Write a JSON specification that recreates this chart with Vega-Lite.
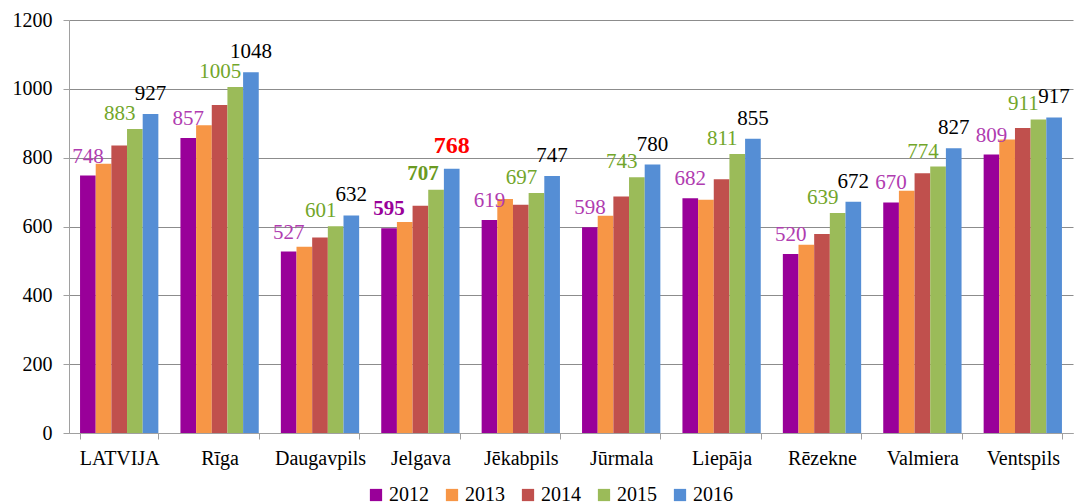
{
  "$schema": "https://vega.github.io/schema/vega-lite/v6.json",
  "autosize": {"type": "none"},
  "width": 1004,
  "height": 413,
  "padding": {"left": 69, "top": 20, "right": 4, "bottom": 71},
  "background": "white",
  "config": {
    "font": "Liberation Serif",
    "view": {"stroke": null},
    "axis": {"labelFont": "Liberation Serif", "labelColor": "black", "labelFontSize": 20, "domainColor": "#a0a0a0", "tickColor": "#a0a0a0", "gridColor": "#8c8c8c", "title": null}
  },
  "data": {
    "values": [
      {"city": "LATVIJA", "year": "2012", "value": 748},
      {"city": "LATVIJA", "year": "2013", "value": 782},
      {"city": "LATVIJA", "year": "2014", "value": 835},
      {"city": "LATVIJA", "year": "2015", "value": 883},
      {"city": "LATVIJA", "year": "2016", "value": 927},
      {"city": "Rīga", "year": "2012", "value": 857},
      {"city": "Rīga", "year": "2013", "value": 894},
      {"city": "Rīga", "year": "2014", "value": 953},
      {"city": "Rīga", "year": "2015", "value": 1005},
      {"city": "Rīga", "year": "2016", "value": 1048},
      {"city": "Daugavpils", "year": "2012", "value": 527},
      {"city": "Daugavpils", "year": "2013", "value": 541},
      {"city": "Daugavpils", "year": "2014", "value": 568},
      {"city": "Daugavpils", "year": "2015", "value": 601},
      {"city": "Daugavpils", "year": "2016", "value": 632},
      {"city": "Jelgava", "year": "2012", "value": 595},
      {"city": "Jelgava", "year": "2013", "value": 613},
      {"city": "Jelgava", "year": "2014", "value": 660},
      {"city": "Jelgava", "year": "2015", "value": 707},
      {"city": "Jelgava", "year": "2016", "value": 768},
      {"city": "Jēkabpils", "year": "2012", "value": 619},
      {"city": "Jēkabpils", "year": "2013", "value": 680},
      {"city": "Jēkabpils", "year": "2014", "value": 663},
      {"city": "Jēkabpils", "year": "2015", "value": 697},
      {"city": "Jēkabpils", "year": "2016", "value": 747},
      {"city": "Jūrmala", "year": "2012", "value": 598},
      {"city": "Jūrmala", "year": "2013", "value": 631},
      {"city": "Jūrmala", "year": "2014", "value": 687},
      {"city": "Jūrmala", "year": "2015", "value": 743},
      {"city": "Jūrmala", "year": "2016", "value": 780},
      {"city": "Liepāja", "year": "2012", "value": 682},
      {"city": "Liepāja", "year": "2013", "value": 678},
      {"city": "Liepāja", "year": "2014", "value": 737},
      {"city": "Liepāja", "year": "2015", "value": 811},
      {"city": "Liepāja", "year": "2016", "value": 855},
      {"city": "Rēzekne", "year": "2012", "value": 520},
      {"city": "Rēzekne", "year": "2013", "value": 547},
      {"city": "Rēzekne", "year": "2014", "value": 578},
      {"city": "Rēzekne", "year": "2015", "value": 639},
      {"city": "Rēzekne", "year": "2016", "value": 672},
      {"city": "Valmiera", "year": "2012", "value": 670},
      {"city": "Valmiera", "year": "2013", "value": 704},
      {"city": "Valmiera", "year": "2014", "value": 755},
      {"city": "Valmiera", "year": "2015", "value": 774},
      {"city": "Valmiera", "year": "2016", "value": 827},
      {"city": "Ventspils", "year": "2012", "value": 809},
      {"city": "Ventspils", "year": "2013", "value": 853},
      {"city": "Ventspils", "year": "2014", "value": 886},
      {"city": "Ventspils", "year": "2015", "value": 911},
      {"city": "Ventspils", "year": "2016", "value": 917}
    ]
  },
  "encoding": {
    "x": {
      "field": "city", "type": "nominal", "sort": null,
      "scale": {"paddingInner": 0.22, "paddingOuter": 0.11},
      "axis": {"labelAngle": 0, "grid": false, "tickBand": "extent", "tickSize": 6, "labelPadding": 9, "domainWidth": 1}
    },
    "xOffset": {"field": "year", "type": "nominal", "scale": {"paddingInner": 0, "paddingOuter": 0}},
    "y": {
      "field": "value", "type": "quantitative",
      "scale": {"domain": [0, 1200], "nice": false},
      "axis": {"values": [0, 200, 400, 600, 800, 1000, 1200], "format": "d", "grid": true, "tickSize": 6, "labelPadding": 11, "domain": true}
    }
  },
  "layer": [
    {
      "mark": {"type": "bar"},
      "encoding": {
        "color": {
          "field": "year", "type": "nominal",
          "scale": {"domain": ["2012", "2013", "2014", "2015", "2016"], "range": ["#990099", "#f79646", "#c0504d", "#9bbb59", "#558ed5"]},
          "legend": {
            "orient": "none", "direction": "horizontal", "legendX": 297, "legendY": 465,
            "title": null, "symbolType": "square", "symbolSize": 150, "symbolStrokeWidth": 0,
            "labelFont": "Liberation Serif", "labelFontSize": 20, "labelColor": "black",
            "columnPadding": 13, "labelOffset": 3
          }
        }
      }
    },
    {
      "transform": [{"filter": "datum.year == '2012' && datum.city != 'Jelgava'"}],
      "mark": {"type": "text", "baseline": "alphabetic", "dy": -13, "fontSize": 21, "color": "#b03cb0", "font": "Liberation Serif"},
      "encoding": {"text": {"field": "value", "type": "quantitative", "format": "d"}}
    },
    {
      "transform": [{"filter": "datum.year == '2012' && datum.city == 'Jelgava'"}],
      "mark": {"type": "text", "baseline": "alphabetic", "dy": -13, "fontSize": 21, "fontWeight": "bold", "color": "#990099", "font": "Liberation Serif"},
      "encoding": {"text": {"field": "value", "type": "quantitative", "format": "d"}}
    },
    {
      "transform": [{"filter": "datum.year == '2015' && datum.city != 'Jelgava'"}],
      "mark": {"type": "text", "baseline": "alphabetic", "dx": -15, "dy": -9, "fontSize": 21, "color": "#72a62a", "font": "Liberation Serif"},
      "encoding": {"text": {"field": "value", "type": "quantitative", "format": "d"}}
    },
    {
      "transform": [{"filter": "datum.year == '2015' && datum.city == 'Jelgava'"}],
      "mark": {"type": "text", "baseline": "alphabetic", "dx": -13, "dy": -10, "fontSize": 21, "fontWeight": "bold", "color": "#6a9a22", "font": "Liberation Serif"},
      "encoding": {"text": {"field": "value", "type": "quantitative", "format": "d"}}
    },
    {
      "transform": [{"filter": "datum.year == '2016' && datum.city != 'Jelgava'"}],
      "mark": {"type": "text", "baseline": "alphabetic", "dy": -14, "fontSize": 21, "color": "black", "font": "Liberation Serif"},
      "encoding": {"text": {"field": "value", "type": "quantitative", "format": "d"}}
    },
    {
      "transform": [{"filter": "datum.year == '2016' && datum.city == 'Jelgava'"}],
      "mark": {"type": "text", "baseline": "alphabetic", "dy": -16, "fontSize": 24, "fontWeight": "bold", "color": "#ff0000", "font": "Liberation Serif"},
      "encoding": {"text": {"field": "value", "type": "quantitative", "format": "d"}}
    }
  ]
}
